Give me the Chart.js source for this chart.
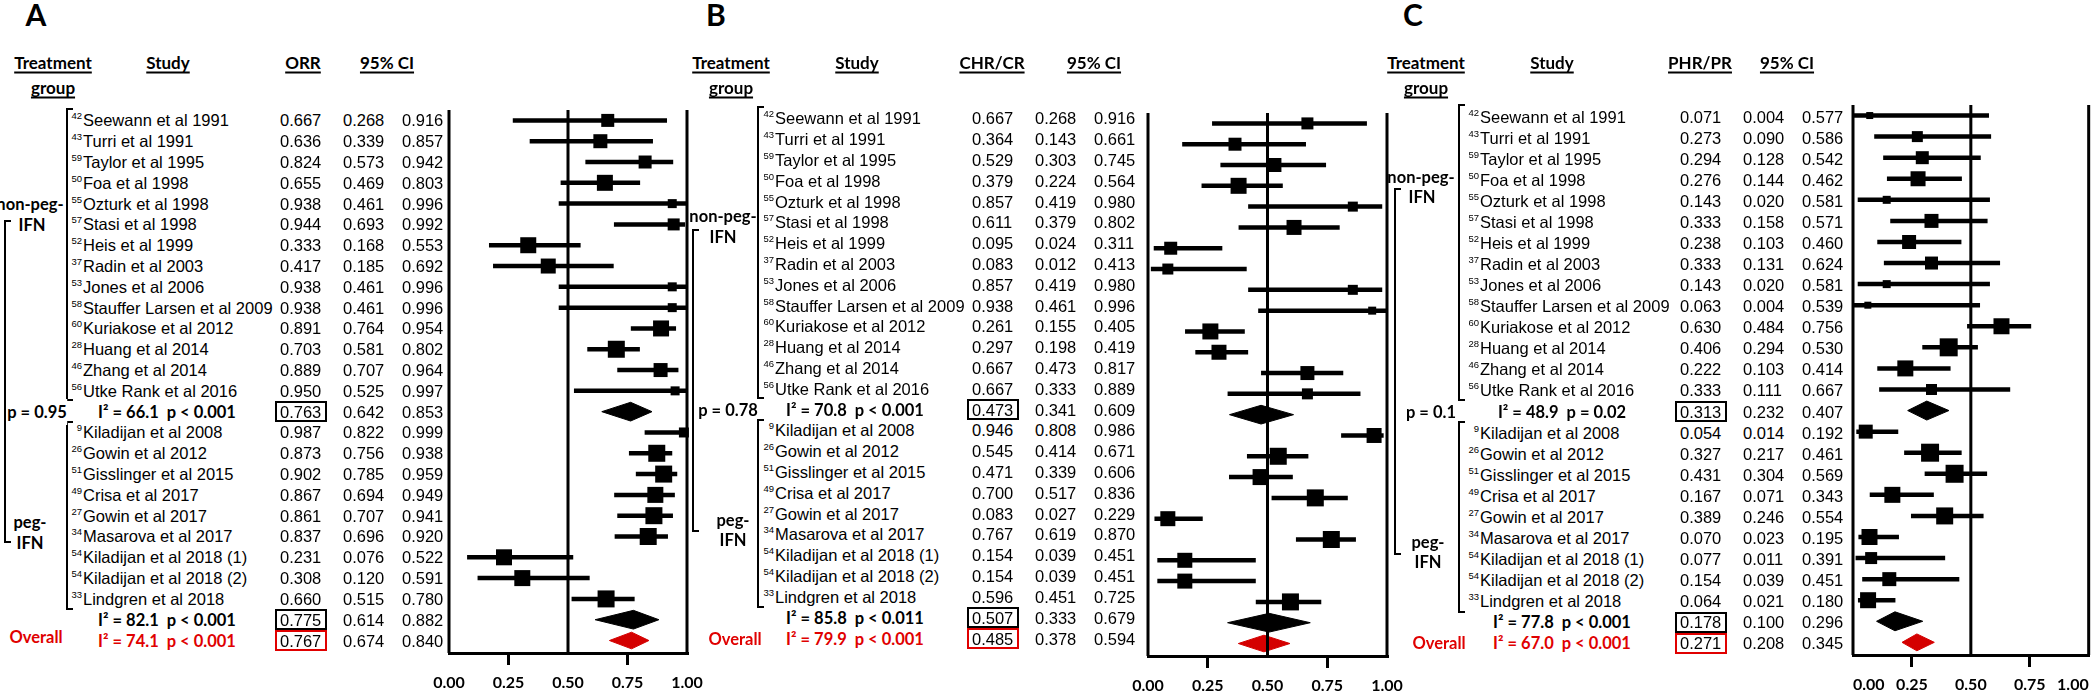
<!DOCTYPE html>
<html>
<head>
<meta charset="utf-8">
<script src="https://cdn.jsdelivr.net/npm/chart.js@4.4.1/dist/chart.umd.min.js"></script>
<style>
  html, body { margin: 0; padding: 0; background: #fff; }
  #fig { position: relative; width: 2100px; height: 692px; overflow: hidden; background: #fff; }
  #fig canvas { position: absolute; }
  .t { position: absolute; white-space: pre; line-height: 1; color: #000; transform: translateY(-50%); }
  .num { font: 16.5px "Liberation Sans", Arial, sans-serif; }
  .sup { font: 9.5px "Liberation Sans", Arial, sans-serif; }
  .hd { font: bold 17px Lato, sans-serif; text-decoration: underline; text-decoration-thickness: 2px; text-underline-offset: 3px; }
  .b { font: bold 16.5px Lato, sans-serif; }
  .red { color: #e00000; }
  .letter { font: bold 30px Lato, sans-serif; }
  .wbg { background: #fff; padding: 3px 0; }
  .br { position: absolute; border: 2.5px solid #000; border-right: none; box-sizing: border-box; }
  .box { position: absolute; border: 2.7px solid #000; box-sizing: border-box; }
</style>
</head>
<body>
<div id="fig"></div>
<script>
// ---- data ----
const studyNames = [
    'Seewann et al 1991', 'Turri et al 1991', 'Taylor et al 1995', 'Foa et al 1998', 'Ozturk et al 1998',
    'Stasi et al 1998', 'Heis et al 1999', 'Radin et al 2003', 'Jones et al 2006', 'Stauffer Larsen et al 2009',
    'Kuriakose et al 2012', 'Huang et al 2014', 'Zhang et al 2014', 'Utke Rank et al 2016',
    'Kiladijan et al 2008', 'Gowin et al 2012', 'Gisslinger et al 2015', 'Crisa et al 2017', 'Gowin et al 2017',
    'Masarova et al 2017', 'Kiladijan et al 2018 (1)', 'Kiladijan et al 2018 (2)', 'Lindgren et al 2018',
];
const studyRefs = [42, 43, 59, 50, 55, 57, 52, 37, 53, 58, 60, 28, 46, 56, 9, 26, 51, 49, 27, 34, 54, 54, 33];
const nonPegCount = 14;

// A: overall response rate
const orrEst = [0.667, 0.636, 0.824, 0.655, 0.938, 0.944, 0.333, 0.417, 0.938, 0.938, 0.891, 0.703, 0.889, 0.950,
                0.987, 0.873, 0.902, 0.867, 0.861, 0.837, 0.231, 0.308, 0.660];
const orrLo  = [0.268, 0.339, 0.573, 0.469, 0.461, 0.693, 0.168, 0.185, 0.461, 0.461, 0.764, 0.581, 0.707, 0.525,
                0.822, 0.756, 0.785, 0.694, 0.707, 0.696, 0.076, 0.120, 0.515];
const orrHi  = [0.916, 0.857, 0.942, 0.803, 0.996, 0.992, 0.553, 0.692, 0.996, 0.996, 0.954, 0.802, 0.964, 0.997,
                0.999, 0.938, 0.959, 0.949, 0.941, 0.920, 0.522, 0.591, 0.780];
const orrPooled   = [0.763, 0.775, 0.767];
const orrPooledLo = [0.642, 0.614, 0.674];
const orrPooledHi = [0.853, 0.882, 0.840];
const orrStats    = ['I² = 66.1  p < 0.001', 'I² = 82.1  p < 0.001', 'I² = 74.1  p < 0.001'];
const orrGroupP   = 'p = 0.95';

// B: complete hematologic response
const chrEst = [0.667, 0.364, 0.529, 0.379, 0.857, 0.611, 0.095, 0.083, 0.857, 0.938, 0.261, 0.297, 0.667, 0.667,
                0.946, 0.545, 0.471, 0.700, 0.083, 0.767, 0.154, 0.154, 0.596];
const chrLo  = [0.268, 0.143, 0.303, 0.224, 0.419, 0.379, 0.024, 0.012, 0.419, 0.461, 0.155, 0.198, 0.473, 0.333,
                0.808, 0.414, 0.339, 0.517, 0.027, 0.619, 0.039, 0.039, 0.451];
const chrHi  = [0.916, 0.661, 0.745, 0.564, 0.980, 0.802, 0.311, 0.413, 0.980, 0.996, 0.405, 0.419, 0.817, 0.889,
                0.986, 0.671, 0.606, 0.836, 0.229, 0.870, 0.451, 0.451, 0.725];
const chrPooled   = [0.473, 0.507, 0.485];
const chrPooledLo = [0.341, 0.333, 0.378];
const chrPooledHi = [0.609, 0.679, 0.594];
const chrStats    = ['I² = 70.8  p < 0.001', 'I² = 85.8  p < 0.011', 'I² = 79.9  p < 0.001'];
const chrGroupP   = 'p = 0.78';

// C: partial hematologic response
const phrEst = [0.071, 0.273, 0.294, 0.276, 0.143, 0.333, 0.238, 0.333, 0.143, 0.063, 0.630, 0.406, 0.222, 0.333,
                0.054, 0.327, 0.431, 0.167, 0.389, 0.070, 0.077, 0.154, 0.064];
const phrLo  = [0.004, 0.090, 0.128, 0.144, 0.020, 0.158, 0.103, 0.131, 0.020, 0.004, 0.484, 0.294, 0.103, 0.111,
                0.014, 0.217, 0.304, 0.071, 0.246, 0.023, 0.011, 0.039, 0.021];
const phrHi  = [0.577, 0.586, 0.542, 0.462, 0.581, 0.571, 0.460, 0.624, 0.581, 0.539, 0.756, 0.530, 0.414, 0.667,
                0.192, 0.461, 0.569, 0.343, 0.554, 0.195, 0.391, 0.451, 0.180];
const phrPooled   = [0.313, 0.178, 0.271];
const phrPooledLo = [0.232, 0.100, 0.208];
const phrPooledHi = [0.407, 0.296, 0.345];
const phrStats    = ['I² = 48.9  p = 0.02', 'I² = 77.8  p < 0.001', 'I² = 67.0  p < 0.001'];
const phrGroupP   = 'p = 0.1';

const axisTicks = [0, 0.25, 0.5, 0.75, 1];

// ---- layout / style ----
const RED = '#e00000';
const RED_FILL = '#d40000';
const Y_MIN = -0.5, Y_MAX = 25.6;
const pooledRows = [14, 24, 25];
const rowOf = (i) => (i < nonPegCount ? i : i + 1);

const panels = [
    {
        letter: 'A', measure: 'ORR', est: orrEst, lo: orrLo, hi: orrHi,
        pooled: orrPooled, pooledLo: orrPooledLo, pooledHi: orrPooledHi, stats: orrStats, groupP: orrGroupP,
        box: [13, 14, 13, 16, 9, 12, 16, 15, 9, 9, 16, 17, 14, 9, 10, 17, 17, 16, 17, 17, 16, 16, 17],
        cx: 420, cy: 90, cw: 300, ch: 602, padL: 29, padR: 33, padT: 20, axisH: 39, tickAlign: 'center', shift: 0,
        letterX: 36, treatX: 53, studyX: 168, measX: 303, ciX: 387,
        nameX: 83, valX: 280, loX: 343, hiX: 402, brX: 67, outerX: 5, sumX: 167,
        nonPeg: [30, 4.0], ifn1: [32, 5.05], pLab: [37, 14], peg: [30, 19.3], ifn2: [30, 20.3], overall: [36, 24.85],
        outer: [4.8, 20.3], pBg: true,
    },
    {
        letter: 'B', measure: 'CHR/CR', est: chrEst, lo: chrLo, hi: chrHi,
        pooled: chrPooled, pooledLo: chrPooledLo, pooledHi: chrPooledHi, stats: chrStats, groupP: chrGroupP,
        box: [12, 13, 14, 16, 10, 15, 13, 11, 10, 8, 16, 15, 14, 11, 15, 17, 16, 17, 15, 17, 15, 15, 17],
        cx: 1120, cy: 90, cw: 300, ch: 602, padL: 28, padR: 33, padT: 23, axisH: 36, tickAlign: 'center', shift: -5,
        letterX: 716, treatX: 731, studyX: 857, measX: 992, ciX: 1094,
        nameX: 775, valX: 972, loX: 1035, hiX: 1094, brX: 758, outerX: 693, sumX: 855,
        nonPeg: [723, 4.7], ifn1: [723, 5.7], pLab: [728, 14], peg: [733, 19.3], ifn2: [733, 20.25], overall: [735, 25],
        outer: [5.3, 19.9], pBg: false,
    },
    {
        letter: 'C', measure: 'PHR/PR', est: phrEst, lo: phrLo, hi: phrHi,
        pooled: phrPooled, pooledLo: phrPooledLo, pooledHi: phrPooledHi, stats: phrStats, groupP: phrGroupP,
        box: [7, 11, 13, 15, 8, 14, 14, 13, 8, 7, 16, 18, 16, 11, 14, 18, 18, 16, 17, 16, 12, 14, 16],
        cx: 1825, cy: 90, cw: 275, ch: 602, padL: 28, padR: 7, padT: 15, axisH: 37, tickAlign: 'inner', shift: 1,
        letterX: 1413, treatX: 1426, studyX: 1552, measX: 1700, ciX: 1787,
        nameX: 1480, valX: 1680, loX: 1743, hiX: 1802, brX: 1459, outerX: 1395, sumX: 1562,
        nonPeg: [1421, 2.85], ifn1: [1422, 3.8], pLab: [1431, 14], peg: [1428, 20.2], ifn2: [1428, 21.15], overall: [1439, 25],
        outer: [3.4, 20.8], pBg: false,
    },
];

const fig = document.getElementById('fig');

function put(txt, x, y, cls, anchor) {
    const d = document.createElement('div');
    d.className = 't ' + cls;
    d.textContent = txt;
    d.style.left = x + 'px';
    d.style.top = y + 'px';
    if (anchor === 'c') d.style.transform = 'translate(-50%,-50%)';
    if (anchor === 'r') d.style.transform = 'translate(-100%,-50%)';
    fig.appendChild(d);
    return d;
}

function bracket(x, y1, y2, w) {
    const d = document.createElement('div');
    d.className = 'br';
    d.style.left = (x - 1.25) + 'px';
    d.style.top = y1 + 'px';
    d.style.width = w + 'px';
    d.style.height = (y2 - y1) + 'px';
    fig.appendChild(d);
}

function box(x, y, color) {
    const d = document.createElement('div');
    d.className = 'box';
    d.style.left = (x - 5) + 'px';
    d.style.top = (y - 10.5) + 'px';
    d.style.width = '52px';
    d.style.height = '21px';
    d.style.borderColor = color;
    fig.appendChild(d);
}

function seg(x1, x2, y, width, color) {
    return {
        type: 'line', data: [{ x: x1, y: y }, { x: x2, y: y }],
        borderColor: color, borderWidth: width, pointRadius: 0, clip: false,
    };
}

function vline(x) {
    return {
        type: 'line', data: [{ x: x, y: Y_MIN }, { x: x, y: Y_MAX }],
        borderColor: '#000', borderWidth: 3, pointRadius: 0, clip: false,
    };
}

function buildPanel(p) {
    const cv = document.createElement('canvas');
    cv.width = p.cw; cv.height = p.ch;
    cv.style.left = p.cx + 'px'; cv.style.top = p.cy + 'px';
    cv.style.width = p.cw + 'px'; cv.style.height = p.ch + 'px';
    fig.appendChild(cv);

    const datasets = [vline(0), vline(0.5), vline(1)];
    p.est.forEach((e, i) => datasets.push(seg(p.lo[i], p.hi[i], rowOf(i), 4.5, '#000')));
    datasets.push({
        type: 'line', showLine: false,
        data: p.est.map((e, i) => ({ x: e, y: rowOf(i) })),
        pointStyle: 'rect', pointRadius: p.box.map(s => s / Math.SQRT2),
        pointBackgroundColor: '#000', pointBorderWidth: 0, clip: false,
    });
    p.pooled.forEach((e, k) => {
        const r = pooledRows[k];
        const h = k === 2 ? 0.4 : 0.45;
        const col = k === 2 ? RED_FILL : '#000';
        datasets.push({
            type: 'line',
            data: [
                { x: p.pooledLo[k], y: r }, { x: e, y: r - h },
                { x: p.pooledHi[k], y: r }, { x: e, y: r + h }, { x: p.pooledLo[k], y: r },
            ],
            fill: 'shape', backgroundColor: col, borderColor: col, borderWidth: 1,
            pointRadius: 0, tension: 0, clip: false,
        });
    });

    const chart = new Chart(cv, {
        type: 'line',
        data: { datasets },
        options: {
            responsive: false, animation: false, events: [],
            layout: { padding: { left: p.padL, right: p.padR, top: p.padT, bottom: 0 } },
            plugins: { legend: { display: false }, tooltip: { enabled: false } },
            scales: {
                x: {
                    type: 'linear', min: 0, max: 1,
                    afterBuildTicks: (s) => { s.ticks = axisTicks.map(v => ({ value: v })); },
                    ticks: {
                        callback: (v) => Number(v).toFixed(2), autoSkip: false, maxRotation: 0,
                        font: { family: 'Lato', weight: 'bold', size: 16 }, color: '#000', padding: 8,
                        align: p.tickAlign,
                    },
                    grid: {
                        drawOnChartArea: false, drawTicks: true, tickLength: 12, lineWidth: 3,
                        color: (ctx) => (ctx.tick && (ctx.tick.value === 0.25 || ctx.tick.value === 0.75)) ? '#000' : 'rgba(0,0,0,0)',
                    },
                    border: { display: true, color: '#000', width: 3 },
                    afterFit: (s) => { s.height = p.axisH; s.paddingLeft = 0; s.paddingRight = 0; },
                },
                y: { type: 'linear', display: false, min: Y_MIN, max: Y_MAX, reverse: true },
            },
        },
    });

    const ys = chart.scales.y;
    const ty = (r) => p.cy + ys.getPixelForValue(r) + p.shift;

    // headers
    put(p.letter, p.letterX, 14, 'letter', 'c');
    put('Treatment', p.treatX, 62, 'hd', 'c');
    put('group', p.treatX, 87, 'hd', 'c');
    put('Study', p.studyX, 62, 'hd', 'c');
    put(p.measure, p.measX, 62, 'hd', 'c');
    put('95% CI', p.ciX, 62, 'hd', 'c');

    // study rows
    studyNames.forEach((name, i) => {
        const y = ty(rowOf(i));
        put(String(studyRefs[i]), p.nameX - 1, y - 5, 'sup', 'r');
        put(name, p.nameX, y, 'num', 'l');
        put(p.est[i].toFixed(3), p.valX, y, 'num', 'l');
        put(p.lo[i].toFixed(3), p.loX, y, 'num', 'l');
        put(p.hi[i].toFixed(3), p.hiX, y, 'num', 'l');
    });

    // pooled rows
    p.pooled.forEach((e, k) => {
        const y = ty(pooledRows[k]);
        const isOverall = k === 2;
        put(p.stats[k], p.sumX, y, 'b' + (isOverall ? ' red' : ''), 'c');
        put(e.toFixed(3), p.valX, y, 'num', 'l');
        put(p.pooledLo[k].toFixed(3), p.loX, y, 'num', 'l');
        put(p.pooledHi[k].toFixed(3), p.hiX, y, 'num', 'l');
        box(p.valX, y, isOverall ? RED : '#000');
    });

    // group brackets and labels
    bracket(p.brX, ty(-0.6), ty(13.5), 7);
    bracket(p.brX, ty(14.45), ty(23.55), 7);
    bracket(p.outerX, ty(p.outer[0]), ty(p.outer[1]), 7);
    put('non-peg-', p.nonPeg[0], ty(p.nonPeg[1]), 'b', 'c');
    put('IFN', p.ifn1[0], ty(p.ifn1[1]), 'b', 'c');
    put(p.groupP, p.pLab[0], ty(p.pLab[1]), 'b' + (p.pBg ? ' wbg' : ''), 'c');
    put('peg-', p.peg[0], ty(p.peg[1]), 'b', 'c');
    put('IFN', p.ifn2[0], ty(p.ifn2[1]), 'b', 'c');
    put('Overall', p.overall[0], ty(p.overall[1]), 'b red', 'c');
}

panels.forEach(buildPanel);
</script>
</body>
</html>
